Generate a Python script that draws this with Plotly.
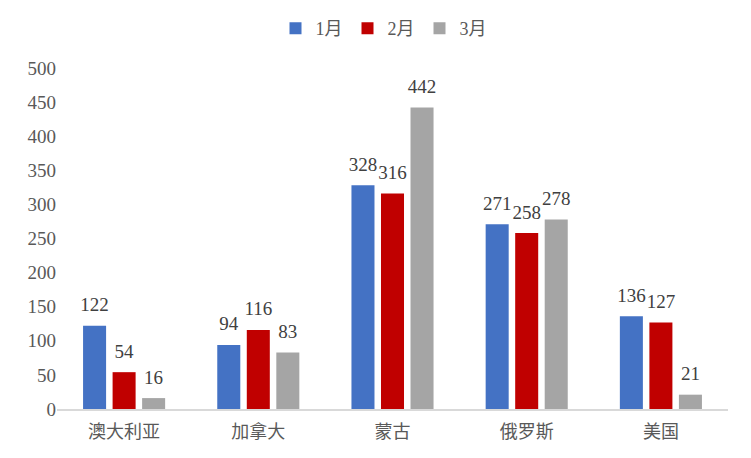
import plotly.graph_objects as go

# data
countries = ['澳大利亚', '加拿大', '蒙古', '俄罗斯', '美国']
jan = [122, 94, 328, 271, 136]
feb = [54, 116, 316, 258, 127]
mar = [16, 83, 442, 278, 21]

font_family = 'Liberation Serif, Noto Sans CJK SC, serif'
text_color = '#595959'

series = [('1月', jan, '#4472C4'),
          ('2月', feb, '#C00000'),
          ('3月', mar, '#A5A5A5')]

fig = go.Figure()
for name, vals, color in series:
    fig.add_trace(go.Bar(
        x=countries, y=vals, name=name,
        marker=dict(color=color, line=dict(width=0)),
    ))

# value labels: grouped text scatter so they sit a little above the bars
for name, vals, color in series:
    fig.add_trace(go.Scatter(
        x=countries, y=vals, mode='markers+text', showlegend=False,
        text=vals, textposition='top center', cliponaxis=False,
        marker=dict(size=14, opacity=0),
        textfont=dict(size=19, color='#404040', family=font_family),
        hoverinfo='skip',
    ))

fig.update_layout(
    width=751, height=458,
    margin=dict(l=49, r=31, t=60, b=57, autoexpand=False),
    paper_bgcolor='white', plot_bgcolor='white',
    font=dict(family=font_family, color=text_color, size=16),
    barmode='group', bargap=0.34, bargroupgap=0.22,
    scattermode='group', scattergap=0.34,
    legend=dict(orientation='h', x=0.5, xanchor='center', xref='container',
                y=0.955, yanchor='middle', yref='container',
                font=dict(size=18), itemwidth=30, traceorder='normal'),
    xaxis=dict(showline=True, linecolor='#D9D9D9', linewidth=1.5,
               ticks='', ticklabelstandoff=6,
               tickfont=dict(size=18, family='Noto Sans CJK SC')),
    yaxis=dict(range=[0, 500], dtick=50, showgrid=False, zeroline=False,
               showline=False, ticks='', tickfont=dict(size=19)),
)

fig.write_html('out.html')
